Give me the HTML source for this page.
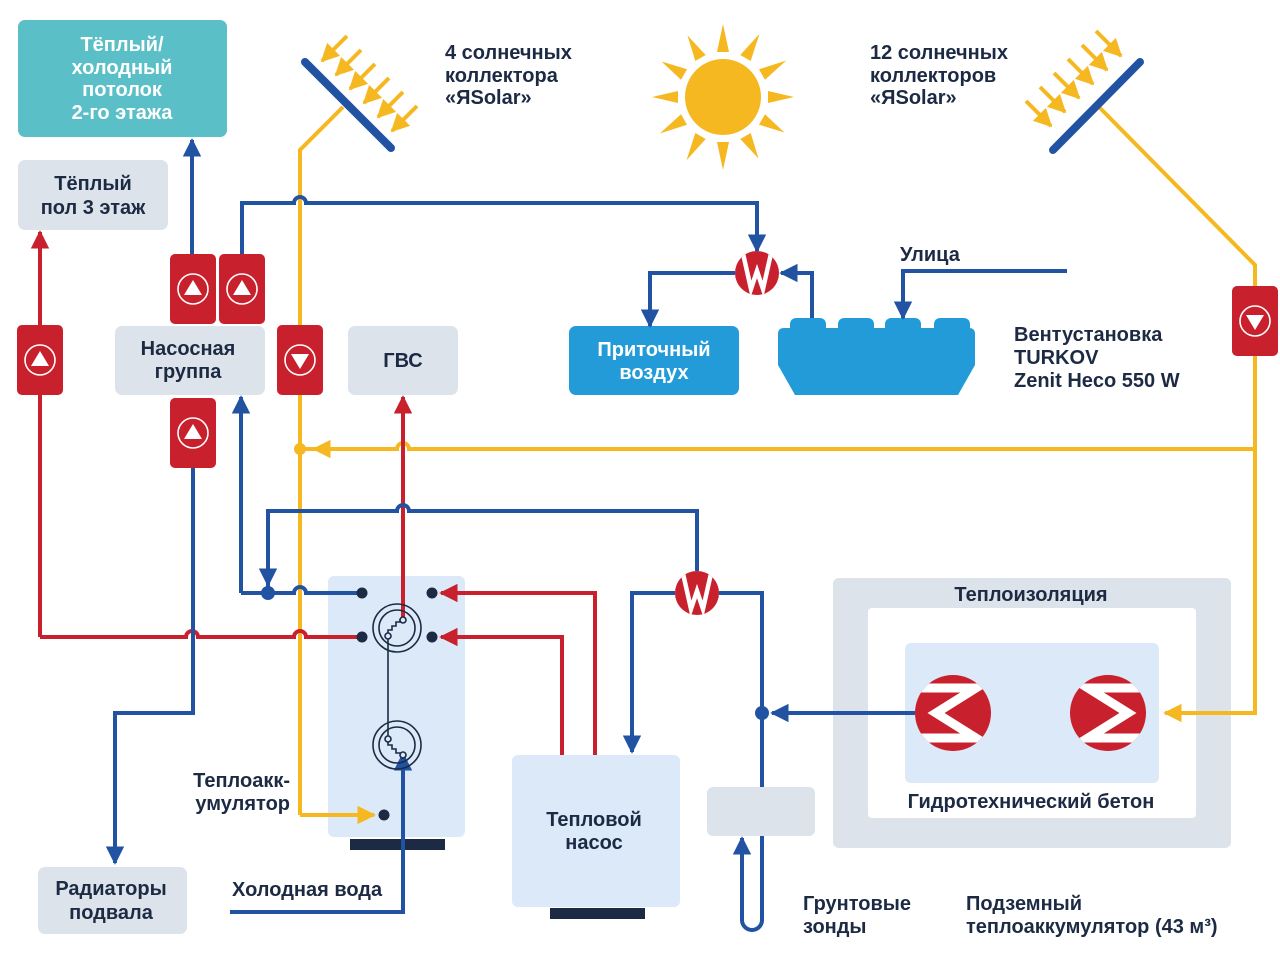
<!DOCTYPE html>
<html><head><meta charset="utf-8"><style>
html,body{margin:0;padding:0;background:#fff}
svg{display:block}
text{font-family:"Liberation Sans",sans-serif;font-weight:bold;font-size:20px;fill:#1c2a44}
.w{fill:#fff}
.c{text-anchor:middle}
</style></head><body>
<svg width="1280" height="955" viewBox="0 0 1280 955" xmlns="http://www.w3.org/2000/svg">
<defs>
<marker id="ab" viewBox="0 0 10 10" refX="9" refY="5" markerWidth="4.6" markerHeight="4.6" orient="auto" markerUnits="strokeWidth"><path d="M0,0L10,5L0,10z" fill="#2253a3"/></marker>
<marker id="ar" viewBox="0 0 10 10" refX="9" refY="5" markerWidth="4.6" markerHeight="4.6" orient="auto" markerUnits="strokeWidth"><path d="M0,0L10,5L0,10z" fill="#c8202c"/></marker>
<marker id="ay" viewBox="0 0 10 10" refX="9" refY="5" markerWidth="4.6" markerHeight="4.6" orient="auto" markerUnits="strokeWidth"><path d="M0,0L10,5L0,10z" fill="#f5b820"/></marker>
<clipPath id="cl1"><circle cx="953" cy="713" r="38"/></clipPath>
<clipPath id="cl2"><circle cx="1108" cy="713" r="38"/></clipPath>
<clipPath id="cw"><circle r="22"/></clipPath>
<g id="pu"><rect x="-23" y="-35" width="46" height="70" rx="5" fill="#c8202c"/><circle r="15" fill="none" stroke="#fff" stroke-width="1.6"/><path d="M0,-9L9,6L-9,6z" fill="#fff"/></g>
<g id="pd"><rect x="-23" y="-35" width="46" height="70" rx="5" fill="#c8202c"/><circle r="15" fill="none" stroke="#fff" stroke-width="1.6"/><path d="M0,9L9,-6L-9,-6z" fill="#fff"/></g>
<g id="wv"><circle r="22" fill="#c8202c"/><path clip-path="url(#cw)" d="M-15,-24L-6,16L0,-2L6,16L15,-24" fill="none" stroke="#fff" stroke-width="4.5" stroke-linejoin="miter"/></g>
</defs>

<rect x="18" y="20" width="209" height="117" rx="7" fill="#5bbfc8"/>
<text class="w c" x="122" y="51">Тёплый/</text>
<text class="w c" x="122" y="74">холодный</text>
<text class="w c" x="122" y="96">потолок</text>
<text class="w c" x="122" y="119">2-го этажа</text>
<rect x="18" y="160" width="150" height="70" rx="7" fill="#dde3ea"/>
<text class="c" x="93" y="190">Тёплый</text>
<text class="c" x="93" y="214">пол 3 этаж</text>
<rect x="115" y="326" width="150" height="69" rx="7" fill="#dde3ea"/>
<text class="c" x="188" y="355">Насосная</text>
<text class="c" x="188" y="378">группа</text>
<rect x="348" y="326" width="110" height="69" rx="7" fill="#dde3ea"/>
<text class="c" x="403" y="367">ГВС</text>
<rect x="38" y="867" width="149" height="67" rx="7" fill="#dde3ea"/>
<text class="c" x="111" y="895">Радиаторы</text>
<text class="c" x="111" y="919">подвала</text>
<rect x="569" y="326" width="170" height="69" rx="7" fill="#229bd8"/>
<text class="w c" x="654" y="356">Приточный</text>
<text class="w c" x="654" y="379">воздух</text>
<g fill="#229bd8">
<rect x="790" y="318" width="36" height="20" rx="6"/><rect x="838" y="318" width="36" height="20" rx="6"/><rect x="885" y="318" width="36" height="20" rx="6"/><rect x="934" y="318" width="36" height="20" rx="6"/>
<path d="M784,328H969Q975,328 975,334V365L958,395H795L778,365V334Q778,328 784,328z"/>
</g>
<text x="1014" y="341">Вентустановка</text>
<text x="1014" y="364">TURKOV</text>
<text x="1014" y="387">Zenit Heco 550 W</text>
<text x="900" y="261">Улица</text>

<rect x="328" y="576" width="137" height="261" rx="6" fill="#dbe9f8"/>
<rect x="350" y="839" width="95" height="11" fill="#1c2a44"/>
<rect x="512" y="755" width="168" height="152" rx="6" fill="#dbe9f8"/>
<rect x="550" y="908" width="95" height="11" fill="#1c2a44"/>
<text class="c" x="594" y="826">Тепловой</text>
<text class="c" x="594" y="849">насос</text>
<rect x="707" y="787" width="108" height="49" rx="6" fill="#dde3ea"/>
<rect x="833" y="578" width="398" height="270" rx="6" fill="#dde3ea"/>
<rect x="868" y="608" width="328" height="210" rx="4" fill="#fff"/>
<rect x="905" y="643" width="254" height="140" rx="6" fill="#dbe9f8"/>
<text class="c" x="1031" y="601">Теплоизоляция</text>
<text class="c" x="1031" y="808">Гидротехнический бетон</text>

<text x="445" y="59">4 солнечных</text>
<text x="445" y="82">коллектора</text>
<text x="445" y="104">«ЯSolar»</text>
<text x="870" y="59">12 солнечных</text>
<text x="870" y="82">коллекторов</text>
<text x="870" y="104">«ЯSolar»</text>
<text x="290" y="787" text-anchor="end">Теплоакк-</text>
<text x="290" y="810" text-anchor="end">умулятор</text>
<text x="232" y="896">Холодная вода</text>
<text x="803" y="910">Грунтовые</text>
<text x="803" y="933">зонды</text>
<text x="966" y="910">Подземный</text>
<text x="966" y="933">теплоаккумулятор (43 м³)</text>

<g fill="#f5b820">
<circle cx="723" cy="97" r="38"/>
<g id="rays">
<path d="M717,52L723,24L729,52z"/><path d="M717,142L723,170L729,142z"/>
<path d="M678,91L652,97L678,103z"/><path d="M768,91L794,97L768,103z"/>
</g>
<use href="#rays" transform="rotate(30 723 97)"/>
<use href="#rays" transform="rotate(60 723 97)"/>
</g>

<g fill="none" stroke="#f5b820" stroke-width="4">
<path d="M300,815V150L343,107"/>
<path d="M300,815H374" marker-end="url(#ay)"/>
<path d="M1100,108L1255,265V713H1165" marker-end="url(#ay)"/>
<path d="M1255,449H409A6,6 0 0 0 397,449H314" marker-end="url(#ay)"/>
<path d="M314,449H300"/>
</g>
<circle cx="300" cy="449" r="6" fill="#f5b820"/>
<g stroke="#f5b820" stroke-width="4" fill="none">
<path d="M347,36L322,61" marker-end="url(#ay)"/><path d="M361,50L336,75" marker-end="url(#ay)"/><path d="M375,64L350,89" marker-end="url(#ay)"/><path d="M389,78L364,103" marker-end="url(#ay)"/><path d="M403,92L378,117" marker-end="url(#ay)"/><path d="M417,106L392,131" marker-end="url(#ay)"/>
<path d="M1096,31L1121,56" marker-end="url(#ay)"/><path d="M1082,45L1107,70" marker-end="url(#ay)"/><path d="M1068,59L1093,84" marker-end="url(#ay)"/><path d="M1054,73L1079,98" marker-end="url(#ay)"/><path d="M1040,87L1065,112" marker-end="url(#ay)"/><path d="M1026,101L1051,126" marker-end="url(#ay)"/>
</g>
<path d="M305,62L391,148" stroke="#2253a3" stroke-width="8" stroke-linecap="round"/>
<path d="M1053,150L1140,62" stroke="#2253a3" stroke-width="8" stroke-linecap="round"/>

<g fill="none" stroke="#c8202c" stroke-width="4">
<path d="M40,637V232" marker-end="url(#ar)"/>
<path d="M40,637H186A6,6 0 0 1 198,637H294A6,6 0 0 1 306,637H362"/>
<path d="M403,620V397" marker-end="url(#ar)"/>
<path d="M595,755V593H441" marker-end="url(#ar)"/>
<path d="M562,755V637H441" marker-end="url(#ar)"/>
</g>
<g fill="none" stroke="#2253a3" stroke-width="4">
<path d="M192,254V140" marker-end="url(#ab)"/>
<path d="M242,254V203H294A6,6 0 0 1 306,203H757V251" marker-end="url(#ab)"/>
<path d="M735,273H650V326" marker-end="url(#ab)"/>
<path d="M812,318V273H781" marker-end="url(#ab)"/>
<path d="M1067,271H903V318" marker-end="url(#ab)"/>
<path d="M193,467V713H115V863" marker-end="url(#ab)"/>
<path d="M241,593V397" marker-end="url(#ab)"/>
<path d="M241,593H294A6,6 0 0 1 306,593H362"/>
<path d="M268,593V511H397A6,6 0 0 1 409,511H697V571"/>
<path d="M268,511V585" marker-end="url(#ab)"/>
<path d="M675,593H632V752" marker-end="url(#ab)"/>
<path d="M719,593H762V787"/>
<path d="M915,713H772" marker-end="url(#ab)"/>
<path d="M230,912H403V754" marker-end="url(#ab)"/>
<path d="M762,836V920A10,10 0 0 1 742,920V838" marker-end="url(#ab)"/>
</g>
<circle cx="268" cy="593" r="7" fill="#2253a3"/>
<circle cx="762" cy="713" r="7" fill="#2253a3"/>
<g fill="#1c2a44"><circle cx="362" cy="593" r="5.5"/><circle cx="362" cy="637" r="5.5"/><circle cx="432" cy="593" r="5.5"/><circle cx="432" cy="637" r="5.5"/><circle cx="384" cy="815" r="5.5"/></g>
<g fill="none" stroke="#1c2a44" stroke-width="1.6">
<circle cx="397" cy="628" r="24"/><circle cx="397" cy="628" r="18"/>
<path d="M388,634V630H392V626H396V622H400V619"/>
<circle cx="388" cy="636" r="3" fill="#dbe9f8"/>
<circle cx="397" cy="745" r="24"/><circle cx="397" cy="745" r="18"/>
<path d="M388,741V745H392V749H396V753H401"/>
<circle cx="388" cy="739" r="3" fill="#dbe9f8"/>
<path d="M388,639V736"/>
</g>
<circle cx="403" cy="620" r="3" fill="#dbe9f8" stroke="#1c2a44" stroke-width="1.6"/>
<circle cx="403" cy="755" r="3" fill="#dbe9f8" stroke="#1c2a44" stroke-width="1.6"/>

<use href="#pu" x="193" y="289"/>
<use href="#pu" x="242" y="289"/>
<use href="#pu" x="40" y="360"/>
<use href="#pu" x="193" y="433"/>
<use href="#pd" x="300" y="360"/>
<use href="#pd" x="1255" y="321"/>
<use href="#wv" x="757" y="273"/>
<use href="#wv" x="697" y="593"/>
<circle cx="953" cy="713" r="38" fill="#c8202c"/>
<path clip-path="url(#cl1)" d="M905,688H976L936,713L976,738H905" fill="none" stroke="#fff" stroke-width="9" stroke-linejoin="miter"/>
<circle cx="1108" cy="713" r="38" fill="#c8202c"/>
<path clip-path="url(#cl2)" d="M1155,688H1088L1128,713L1088,738H1155" fill="none" stroke="#fff" stroke-width="9" stroke-linejoin="miter"/>
</svg>
</body></html>
